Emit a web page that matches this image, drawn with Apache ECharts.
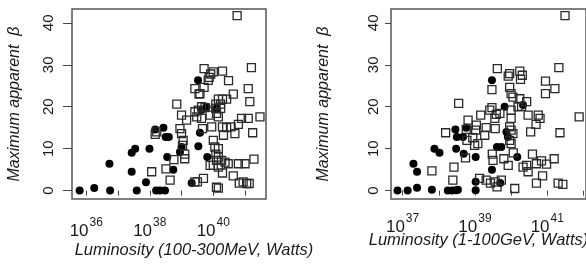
<!DOCTYPE html>
<html>
<head>
<meta charset="utf-8">
<script src="https://cdn.jsdelivr.net/npm/echarts@6/dist/echarts.min.js"></script>
<style>
  html, body { margin: 0; padding: 0; background: #fff; }
  #chart { width: 586px; height: 266px; }
</style>
</head>
<body>
<div id="chart"></div>
<script>
// x values are log10(Luminosity / W), y is maximum apparent beta
var leftDotX = [35.79, 36.25, 36.73, 36.75, 37.43, 37.54, 37.43, 37.59, 37.88, 37.99, 38.17, 38.43, 38.2, 38.32, 38.48,
    38.5, 38.6, 38.55, 38.74, 38.95, 39.0, 39.52, 39.53, 39.58, 39.32, 39.79, 39.81, 40.1, 39.63];
var leftDotY = [0, 0.6, 6.4, 0, 9.0, 10.0, 4.5, 0, 2.0, 10.0, 14.6, 15.0, 0, 0, 0,
    12.8, 12.8, 8.0, 5.0, 9.2, 10.4, 26.3, 10.6, 13.8, 1.8, 20.0, 8.0, 19.6, 19.2];

var leftSqX = [40.75, 39.71, 39.92, 39.87, 39.84, 40.29, 40.0, 40.48, 39.42, 39.71, 39.55, 40.63, 41.2, 41.1, 41.15,
    40.16, 40.29, 40.42, 40.08, 40.23, 40.08, 40.23, 38.85, 39.0, 39.16, 38.95, 39.0, 39.05, 39.03, 39.1,
    39.1, 38.76, 38.51, 38.64, 38.06, 38.17, 38.22, 39.42, 39.53, 39.48, 39.63, 39.74, 39.63, 39.66, 39.58,
    39.9, 40.1, 40.16, 39.95, 40.29, 40.42, 40.32, 40.0, 40.05, 40.16, 40.08, 40.16, 40.1, 40.26, 39.9,
    40.0, 40.16, 40.29, 40.47, 40.37, 40.1, 40.16, 39.69, 39.42, 39.5, 40.63, 40.82, 40.94, 41.05, 41.13,
    40.79, 41.0, 41.28, 41.24, 41.1, 41.47, 40.89, 40.68, 40.79, 40.56];
var leftSqY = [41.7, 29.1, 27.8, 27.0, 26.3, 28.5, 28.3, 26.2, 24.3, 24.6, 23.0, 23.0, 29.3, 24.3, 21.2,
    21.8, 21.8, 21.8, 20.6, 20.6, 19.6, 19.6, 20.6, 18.0, 16.8, 14.8, 13.6, 12.0, 10.8, 8.7,
    7.6, 7.4, 5.2, 2.5, 4.5, 13.4, 14.0, 18.8, 19.2, 17.6, 20.0, 19.8, 17.2, 14.8, 23.1,
    18.0, 18.4, 17.6, 15.2, 15.2, 15.0, 13.2, 12.0, 10.4, 10.0, 8.7, 8.0, 7.2, 7.2, 6.0,
    6.0, 5.6, 4.2, 6.4, 6.8, 0.8, 0.6, 2.9, 2.1, 2.1, 3.5, 1.8, 2.1, 1.7, 1.7,
    6.4, 6.4, 7.5, 13.8, 17.2, 17.6, 17.2, 13.6, 15.8, 15.2];

var rightDotX = [36.86, 37.14, 37.3, 37.4, 37.4, 37.81, 37.88, 38.02, 38.25, 38.37, 38.48, 38.53, 38.46, 38.5, 38.48,
    38.67, 38.76, 38.69, 39.02, 39.02, 39.02, 39.47, 39.47, 39.7, 39.61, 39.73, 39.82, 39.87, 39.91, 40.17, 40.33];
var rightDotY = [0, 0, 6.4, 4.5, 0.7, 0.2, 10.0, 9.0, 0, 0, 0.1, 0.2, 14.6, 12.8, 10.0,
    12.8, 15.0, 8.8, 8.0, 2.1, 0.1, 26.3, 5.0, 1.8, 10.4, 10.4, 20.0, 14.0, 12.8, 8.0, 20.4];

var rightSqX = [41.49, 39.62, 39.96, 39.92, 40.24, 40.31, 40.26, 41.32, 40.95, 41.21, 40.95, 39.96, 40.0, 40.05, 40.24,
    40.43, 40.29, 40.19, 39.47, 39.47, 39.41, 39.59, 39.69, 39.55, 40.0, 38.55, 39.16, 38.81, 39.04, 39.02,
    39.31, 39.56, 39.96, 40.0, 40.05, 39.96, 40.0, 38.94, 38.99, 39.08, 39.27, 38.76, 38.78, 38.74, 38.19,
    38.42, 38.39, 37.81, 39.13, 39.31, 39.43, 39.56, 39.73, 39.61, 40.1, 39.48, 39.5, 39.8, 39.92, 40.06,
    40.33, 40.43, 40.47, 40.59, 40.7, 40.84, 40.98, 41.19, 40.7, 40.87, 41.3, 41.43, 40.47, 40.75, 40.69,
    40.54, 40.8, 41.35, 41.88, 40.0];
var rightSqY = [41.7, 29.1, 27.9, 27.3, 28.5, 27.5, 26.5, 29.3, 26.1, 24.3, 23.1, 24.6, 23.1, 22.3, 21.9,
    21.2, 20.1, 20.0, 24.1, 19.8, 19.2, 18.2, 18.4, 17.2, 19.2, 20.8, 18.0, 16.8, 15.6, 14.4,
    15.0, 14.8, 15.2, 14.4, 13.6, 12.0, 11.2, 12.6, 10.8, 11.2, 13.2, 14.6, 12.0, 7.8, 13.8,
    5.6, 2.5, 4.7, 2.9, 2.5, 1.8, 2.1, 2.5, 0.9, 0.5, 8.7, 7.2, 7.6, 6.0, 9.0,
    5.6, 6.0, 4.5, 8.7, 6.4, 7.1, 6.3, 7.6, 1.8, 3.5, 1.8, 1.5, 18.0, 18.0, 15.8,
    14.0, 17.2, 13.8, 17.6, 17.2];

var yTicks = [0, 10, 20, 30, 40];
var leftXTicks = [36, 37, 38, 39, 40, 41];
var leftXLabels = [36, 38, 40];
var rightXTicks = [37, 38, 39, 40, 41, 42];
var rightXLabels = [37, 39, 41];

var FONT = "'Liberation Sans', Arial, Helvetica, sans-serif";
var INK = '#1a1a1a';

function zip(xs, ys) {
    var out = [];
    for (var i = 0; i < xs.length; i++) {
        out.push([xs[i], ys[i]]);
    }
    return out;
}

function xAxisOpt(idx, min, max, ticks, labels, name, namePad, labelMargin, nameGap) {
    return {
        type: 'value', gridIndex: idx, min: min, max: max,
        splitLine: {show: false},
        axisLine: {show: false},
        axisTick: {show: true, length: 5, customValues: ticks, lineStyle: {color: '#444', width: 1}},
        axisLabel: {
            customValues: labels, margin: labelMargin,
            formatter: function (v) { return '{b|10}{s|' + v + '}'; },
            rich: {
                b: {fontSize: 17, fontFamily: FONT, color: INK, verticalAlign: 'bottom'},
                s: {fontSize: 12, fontFamily: FONT, color: INK, verticalAlign: 'bottom', padding: [0, 0, 11, 1]}
            }
        },
        name: name, nameLocation: 'middle', nameGap: nameGap, nameMoveOverlap: false,
        nameTextStyle: {fontSize: 16.5, fontStyle: 'italic', fontFamily: FONT, color: INK, padding: namePad}
    };
}

function yAxisOpt(idx, labelMargin, nameGap, tickLen) {
    return {
        type: 'value', gridIndex: idx, min: -2.0, max: 43.3,
        splitLine: {show: false},
        axisLine: {show: false},
        axisTick: {show: true, length: tickLen, customValues: yTicks, lineStyle: {color: '#444', width: 1}},
        axisLabel: {customValues: yTicks, rotate: 90, margin: labelMargin, fontSize: 15, fontFamily: FONT, color: INK},
        name: 'Maximum apparent  β', nameLocation: 'middle', nameGap: nameGap, nameMoveOverlap: false,
        nameTextStyle: {fontSize: 16, fontStyle: 'italic', fontFamily: FONT, color: INK}
    };
}

function dots(idx, xs, ys) {
    return {
        type: 'scatter', xAxisIndex: idx, yAxisIndex: idx, data: zip(xs, ys),
        symbol: 'circle', symbolSize: 8, silent: true,
        itemStyle: {color: '#000', opacity: 1}
    };
}

function squares(idx, xs, ys) {
    return {
        type: 'scatter', xAxisIndex: idx, yAxisIndex: idx, data: zip(xs, ys),
        symbol: 'rect', symbolSize: 8, silent: true,
        itemStyle: {color: 'rgba(0,0,0,0)', borderColor: '#2a2a2a', borderWidth: 1.3, opacity: 1}
    };
}

var chart = echarts.init(document.getElementById('chart'), null, {renderer: 'canvas'});
chart.setOption({
    backgroundColor: '#fff',
    animation: false,
    grid: [
        {left: 72, top: 9, width: 194, height: 190, show: true, borderColor: '#555', borderWidth: 1.5,
            backgroundColor: 'transparent', outerBoundsMode: 'none'},
        {left: 391, top: 9, width: 195, height: 190, show: true, borderColor: '#555', borderWidth: 1.5,
            backgroundColor: 'transparent', outerBoundsMode: 'none'}
    ],
    xAxis: [
        xAxisOpt(0, 35.55, 41.66, leftXTicks, leftXLabels, 'Luminosity (100-300MeV, Watts)', [0, 0, 0, 50], 18, 43),
        xAxisOpt(1, 36.68, 42.07, rightXTicks, rightXLabels, 'Luminosity (1-100GeV, Watts)', [0, 20, 0, 0], 14, 33)
    ],
    yAxis: [
        yAxisOpt(0, 16, 49, 9),
        yAxisOpt(1, 10, 59, 6)
    ],
    series: [
        dots(0, leftDotX, leftDotY),
        squares(0, leftSqX, leftSqY),
        dots(1, rightDotX, rightDotY),
        squares(1, rightSqX, rightSqY)
    ]
});
</script>
</body>
</html>
